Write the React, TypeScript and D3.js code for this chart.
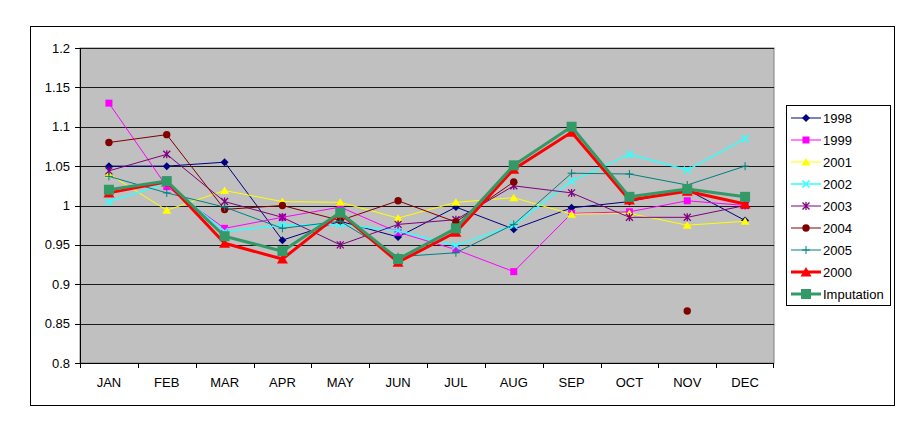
import React from "react";
import * as d3 from "d3";

const months = ["JAN", "FEB", "MAR", "APR", "MAY", "JUN", "JUL", "AUG", "SEP", "OCT", "NOV", "DEC"];
const yTicks = [0.8, 0.85, 0.9, 0.95, 1, 1.05, 1.1, 1.15, 1.2];

const s1998 = [1.05, 1.05, 1.055, 0.956, 0.98, 0.96, 0.998, 0.97, 0.997, 1.005, 1.02, 0.981];
const s1999 = [1.13, 1.024, 0.971, 0.985, 0.998, 0.966, 0.944, 0.916, 0.99, 0.992, 1.006, 1.0];
const s2001 = [1.04, 0.994, 1.019, 1.005, 1.004, 0.984, 1.004, 1.01, 0.989, 0.99, 0.975, 0.98];
const s2002 = [1.005, 1.028, 0.967, 0.975, 0.976, 0.968, 0.949, 0.975, 1.031, 1.065, 1.045, 1.085];
const s2003 = [1.044, 1.065, 1.005, 0.985, 0.95, 0.976, 0.982, 1.025, 1.016, 0.985, 0.985, 1.0];
const s2004: (number | null)[] = [1.08, 1.09, 0.995, 1.0, 0.981, 1.006, 0.979, 1.03, null, null, 0.866, null];
const s2005 = [1.037, 1.016, 0.998, 0.971, 0.98, 0.935, 0.94, 0.976, 1.041, 1.04, 1.026, 1.05];
const s2000 = [1.016, 1.03, 0.952, 0.932, 0.99, 0.928, 0.966, 1.046, 1.093, 1.007, 1.018, 1.002];
const sImputation = [1.02, 1.031, 0.961, 0.942, 0.991, 0.932, 0.971, 1.051, 1.1, 1.011, 1.021, 1.011];

type Marker = "diamond" | "square" | "triangle" | "x" | "star" | "circle" | "plus" | "bigTriangle" | "bigSquare";

const seriesList: { name: string; values: (number | null)[]; color: string; width: number; marker: Marker }[] = [
  { name: "1998", values: s1998, color: "#000080", width: 1, marker: "diamond" },
  { name: "1999", values: s1999, color: "#FF00FF", width: 1, marker: "square" },
  { name: "2001", values: s2001, color: "#FFFF00", width: 1, marker: "triangle" },
  { name: "2002", values: s2002, color: "#33FFFF", width: 1.5, marker: "x" },
  { name: "2003", values: s2003, color: "#800080", width: 1, marker: "star" },
  { name: "2004", values: s2004, color: "#800000", width: 1, marker: "circle" },
  { name: "2005", values: s2005, color: "#008080", width: 1, marker: "plus" },
  { name: "2000", values: s2000, color: "#FF0000", width: 3, marker: "bigTriangle" },
  { name: "Imputation", values: sImputation, color: "#339966", width: 3, marker: "bigSquare" },
];

function MarkerShape({ type, x, y, color }: { type: Marker; x: number; y: number; color: string }) {
  switch (type) {
    case "diamond":
      return <path d={`M${x},${y - 4}L${x + 4},${y}L${x},${y + 4}L${x - 4},${y}Z`} fill={color} />;
    case "square":
      return <rect x={x - 3.5} y={y - 3.5} width={7} height={7} fill={color} />;
    case "triangle":
      return <path d={`M${x},${y - 4}L${x + 4.5},${y + 3.5}L${x - 4.5},${y + 3.5}Z`} fill={color} />;
    case "x":
      return (
        <path d={`M${x - 3.5},${y - 3.5}L${x + 3.5},${y + 3.5}M${x - 3.5},${y + 3.5}L${x + 3.5},${y - 3.5}`} stroke={color} strokeWidth={1.6} />
      );
    case "star":
      return (
        <path
          d={`M${x - 3.5},${y - 3.5}L${x + 3.5},${y + 3.5}M${x - 3.5},${y + 3.5}L${x + 3.5},${y - 3.5}M${x},${y - 4}L${x},${y + 4}`}
          stroke={color}
          strokeWidth={1.3}
        />
      );
    case "circle":
      return <circle cx={x} cy={y} r={3.7} fill={color} />;
    case "plus":
      return <path d={`M${x - 4},${y}L${x + 4},${y}M${x},${y - 4}L${x},${y + 4}`} stroke={color} strokeWidth={1} />;
    case "bigTriangle":
      return <path d={`M${x},${y - 5}L${x + 5.5},${y + 4.5}L${x - 5.5},${y + 4.5}Z`} fill={color} />;
    case "bigSquare":
      return <rect x={x - 5} y={y - 5} width={10} height={10} fill={color} />;
  }
  return null;
}

export default function App() {
  const left = 80, right = 774, top = 48, bottom = 363;
  const x = d3.scaleBand<string>().domain(months).range([left, right]).padding(0);
  const y = d3.scaleLinear().domain([0.8, 1.2]).range([bottom, top]);
  const cx = (m: string) => (x(m) as number) + x.bandwidth() / 2;

  const font = "'Liberation Sans', Arial, sans-serif";

  const legendX = 786, legendY = 105, legendW = 104, legendH = 200;
  const rowH = 22;

  return (
    <svg width={924} height={424} style={{ position: "absolute", left: 0, top: 0 }} fontFamily={font}>
      <rect x={0} y={0} width={924} height={424} fill="#fff" />
      <rect x={30.5} y={26.5} width={864} height={379} fill="#fff" stroke="#000" strokeWidth={1} />
      <rect x={left} y={top} width={right - left} height={bottom - top} fill="#C0C0C0" stroke="#808080" strokeWidth={1} />
      {yTicks.map((t) => (
        <line key={"g" + t} x1={left} x2={right} y1={Math.round(y(t)) + 0.5} y2={Math.round(y(t)) + 0.5} stroke="#1a1a1a" strokeWidth={1} />
      ))}
      {/* axes */}
      <line x1={left + 0.5} x2={left + 0.5} y1={top} y2={bottom} stroke="#000" />
      <line x1={left} x2={right} y1={bottom + 0.5} y2={bottom + 0.5} stroke="#000" />
      {yTicks.map((t) => (
        <g key={"yt" + t}>
          <line x1={left - 5} x2={left} y1={Math.round(y(t)) + 0.5} y2={Math.round(y(t)) + 0.5} stroke="#000" />
          <text x={70} y={y(t)} dy="0.35em" textAnchor="end" fontSize={13} fill="#000">
            {String(t)}
          </text>
        </g>
      ))}
      {months.map((m) => (
        <line key={"xt" + m} x1={Math.round(x(m) as number) + 0.5} x2={Math.round(x(m) as number) + 0.5} y1={bottom} y2={bottom + 5} stroke="#000" />
      ))}
      <line x1={right - 0.5} x2={right - 0.5} y1={bottom} y2={bottom + 5} stroke="#000" />
      {months.map((m) => (
        <text key={"xl" + m} x={cx(m)} y={387} textAnchor="middle" fontSize={13} fill="#000">
          {m}
        </text>
      ))}
      {/* series */}
      {seriesList.map((s) => {
        const line = d3
          .line<number | null>()
          .defined((d) => d !== null)
          .x((_, i) => cx(months[i]))
          .y((d) => y(d as number));
        return (
          <g key={s.name}>
            <path d={line(s.values) || ""} fill="none" stroke={s.color} strokeWidth={s.width} strokeLinejoin="round" />
            {s.values.map((v, i) =>
              v === null ? null : <MarkerShape key={i} type={s.marker} x={cx(months[i])} y={y(v)} color={s.color} />
            )}
          </g>
        );
      })}
      {/* legend */}
      <rect x={legendX + 0.5} y={legendY + 0.5} width={legendW} height={legendH} fill="#fff" stroke="#000" />
      {seriesList.map((s, i) => {
        const ly = 118 + i * rowH;
        return (
          <g key={"lg" + s.name}>
            <line x1={791} x2={821} y1={ly} y2={ly} stroke={s.color} strokeWidth={s.width} />
            <MarkerShape type={s.marker} x={806} y={ly} color={s.color} />
            <text x={823} y={ly} dy="0.36em" fontSize={13} fill="#000">
              {s.name}
            </text>
          </g>
        );
      })}
    </svg>
  );
}
